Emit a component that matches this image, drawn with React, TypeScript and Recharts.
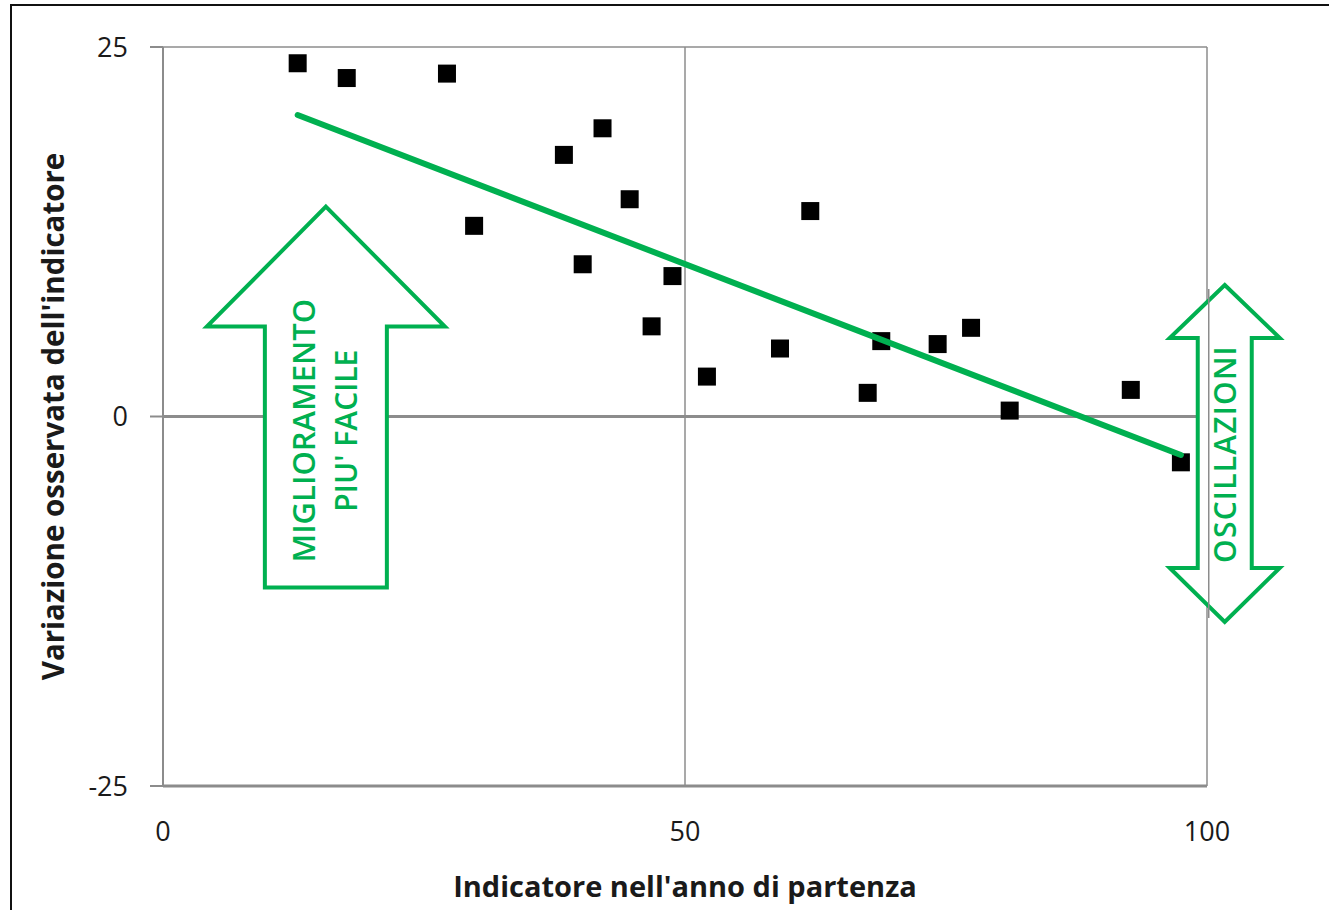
import {
  ComposedChart,
  Scatter,
  XAxis,
  YAxis,
  CartesianGrid,
  ReferenceLine,
  ReferenceDot,
} from "recharts"

// osservazioni: indicatore nell'anno di partenza / variazione osservata
const pointX = [12.9, 17.6, 27.2, 29.8, 38.4, 40.2, 42.1, 44.7, 46.8, 48.8, 52.1, 59.1, 62.0, 67.5, 68.8, 74.2, 77.4, 81.1, 92.7, 97.5]
const pointY = [23.9, 22.9, 23.2, 12.9, 17.7, 10.3, 19.5, 14.7, 6.1, 9.5, 2.7, 4.6, 13.9, 1.6, 5.1, 4.9, 6.0, 0.4, 1.8, -3.1]

// linea di tendenza (estremi)
const trendX = [12.9, 97.5]
const trendY = [20.4, -2.6]

const xTicks = [0, 50, 100]
const yTicks = [-25, 0, 25]

const xTitle = "Indicatore nell'anno di partenza"
const yTitle = "Variazione osservata dell'indicatore"
const arrowUpText = ["MIGLIORAMENTO", "PIU' FACILE"]
const arrowBothText = "OSCILLAZIONI"

const points = pointX.map((x, i) => ({ x, y: pointY[i] }))
const trend = trendX.map((x, i) => ({ x, y: trendY[i] }))

const GREEN = "#00b050"
const GRID = "#8c8c8c"
const TEXT = "#1a1a1a"
const FONT = "'Open Sans', sans-serif"

const Square = (props: any) => {
  const { cx, cy } = props
  if (cx == null || cy == null) return null
  return <rect x={cx - 9} y={cy - 9} width={18} height={18} fill="#000" />
}

const UpArrow = (props: any) => {
  const { cx, cy } = props
  const pts = [
    [0, 0], [119, 120], [61, 120], [61, 381], [-61, 381], [-61, 120], [-119, 120],
  ].map(([dx, dy]) => `${cx + dx},${cy + dy}`).join(" ")
  const l1x = cx - 23, l2x = cx + 20, ty = cy + 224
  return (
    <g>
      <polygon points={pts} fill="#fff" stroke={GREEN} strokeWidth={4} strokeLinejoin="miter" />
      <text x={l1x} y={ty} transform={`rotate(-90 ${l1x} ${ty})`} textAnchor="middle" dominantBaseline="central"
        fill={GREEN} fontFamily={FONT} fontWeight={600} fontSize={31}>{arrowUpText[0]}</text>
      <text x={l2x} y={ty} transform={`rotate(-90 ${l2x} ${ty})`} textAnchor="middle" dominantBaseline="central"
        fill={GREEN} fontFamily={FONT} fontWeight={600} fontSize={30}>{arrowUpText[1]}</text>
    </g>
  )
}

const BothArrow = (props: any) => {
  const { cx, cy } = props
  const pts = [
    [0, 0], [55, 53], [27, 53], [27, 283], [55, 283], [0, 337],
    [-55, 283], [-27, 283], [-27, 53], [-55, 53],
  ].map(([dx, dy]) => `${cx + dx},${cy + dy}`).join(" ")
  const ty = cy + 169
  return (
    <g>
      <polygon points={pts} fill="#fff" stroke={GREEN} strokeWidth={4} />
      <line x1={cx - 16} y1={cy + 4} x2={cx - 16} y2={cy + 333} stroke={GRID} strokeWidth={1.5} />
      <text x={cx} y={ty} transform={`rotate(-90 ${cx} ${ty})`} textAnchor="middle" dominantBaseline="central"
        fill={GREEN} fontFamily={FONT} fontWeight={600} fontSize={30} letterSpacing={1.2}>{arrowBothText}</text>
    </g>
  )
}

const YTitle = (props: any) => {
  const { viewBox } = props
  const y = viewBox.y + viewBox.height / 2
  return (
    <text x={52} y={y} transform={`rotate(-90 52 ${y})`} textAnchor="middle" dominantBaseline="central"
      fill={TEXT} fontFamily={FONT} fontWeight={700} fontSize={29.5}>{yTitle}</text>
  )
}

const XTitle = (props: any) => {
  const { viewBox } = props
  const x = viewBox.x + viewBox.width / 2
  return (
    <text x={x} y={885} textAnchor="middle" dominantBaseline="central"
      fill={TEXT} fontFamily={FONT} fontWeight={700} fontSize={29}>{xTitle}</text>
  )
}

export default function App() {
  return (
    <div style={{ position: "absolute", left: 0, top: 0, width: 1329, height: 910, overflow: "hidden", background: "#fff" }}>
      <div style={{ position: "absolute", left: 10, top: 4, width: 1400, height: 1000, border: "2px solid #111" }} />
      <div style={{ position: "absolute", left: 0, top: 0 }}>
        <ComposedChart
          width={1329}
          height={910}
          data={points}
          margin={{ top: 47, right: 122, left: 60, bottom: 0 }}
        >
          <CartesianGrid stroke={GRID} strokeWidth={1.5} />
          <XAxis
            type="number"
            dataKey="x"
            domain={[0, 100]}
            ticks={xTicks}
            height={124}
            axisLine={{ stroke: GRID, strokeWidth: 3 }}
            tickLine={false}
            tickSize={0}
            tickMargin={36}
            tick={{ fill: TEXT, fontSize: 27, fontFamily: FONT }}
            label={<XTitle />}
          />
          <YAxis
            type="number"
            dataKey="y"
            domain={[-25, 25]}
            ticks={yTicks}
            width={103}
            axisLine={{ stroke: GRID, strokeWidth: 2 }}
            tickLine={{ stroke: GRID, strokeWidth: 2 }}
            tickSize={13}
            tickMargin={22}
            tick={{ fill: TEXT, fontSize: 27, fontFamily: FONT }}
            label={<YTitle />}
          />
          <ReferenceLine y={0} stroke={GRID} strokeWidth={3} />
          <ReferenceDot x={15.6} y={14.2} r={0} ifOverflow="visible" shape={<UpArrow />} />
          <ReferenceDot x={101.7} y={8.9} r={0} ifOverflow="visible" shape={<BothArrow />} />
          <Scatter data={points} shape={<Square />} isAnimationActive={false} />
          <Scatter
            data={trend}
            line={{ stroke: GREEN, strokeWidth: 6, strokeLinecap: "round" }}
            shape={() => <g />}
            isAnimationActive={false}
          />
        </ComposedChart>
      </div>
    </div>
  )
}
